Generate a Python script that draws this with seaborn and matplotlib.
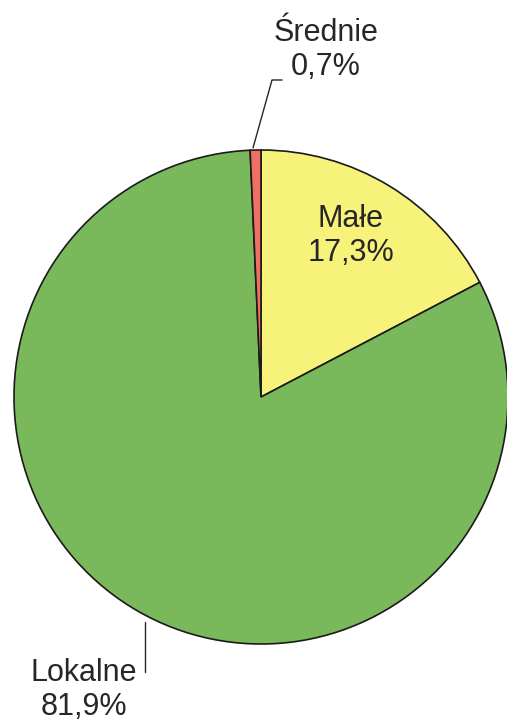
import matplotlib
matplotlib.use("Agg")
import matplotlib.pyplot as plt
import seaborn as sns

# Data
categories = ["Małe", "Lokalne", "Średnie"]
shares = [17.3, 81.9, 0.7]
pie_colors = ["#f6f27a", "#79b95c", "#ee6f63"]

sns.set_theme(style="white")
plt.rcParams["font.family"] = ["Liberation Sans", "DejaVu Sans"]

fig = plt.figure(figsize=(5.07, 7.26), dpi=100)
ax = fig.add_axes([0, 0, 1, 1])

H = 726
cx, cy, r = 261, H - 397, 247

ax.pie(shares, colors=pie_colors, startangle=90, counterclock=False,
       center=(cx, cy), radius=r,
       wedgeprops=dict(edgecolor="#1a1a1a", linewidth=1.2))

ax.set_xlim(0, 507)
ax.set_ylim(0, H)
ax.set_aspect("auto")
ax.axis("off")

lbl = {c: f"{c}\n{v:.1f}%".replace(".", ",") for c, v in zip(categories, shares)}
fs = 22

# Małe - inside the slice
ax.text(351, H - 236, lbl["Małe"], ha="center", va="center", fontsize=fs,
        color="#262626", linespacing=1.15)

# Średnie - above with a leader
ax.text(326, H - 50, lbl["Średnie"], ha="center", va="center", fontsize=fs,
        color="#262626", linespacing=1.15)
ax.plot([253, 272, 282], [H - 148, H - 80, H - 80], color="#262626", lw=1)

# Lokalne - bottom left with a leader
ax.text(84, H - 690, lbl["Lokalne"], ha="center", va="center", fontsize=fs,
        color="#262626", linespacing=1.15)
ax.plot([145, 145], [H - 622, H - 672], color="#262626", lw=1)

fig.savefig("out.png", dpi=100)
